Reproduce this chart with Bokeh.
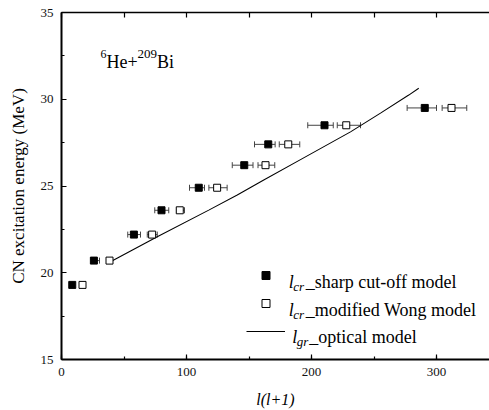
import numpy as np
from bokeh.plotting import figure
from bokeh.models import (ColumnDataSource, Range1d, LinearAxis, SingleIntervalTicker,
                          Whisker, TeeHead, Label, Legend, LegendItem)
from bokeh.core.properties import value
from bokeh.embed import file_html
from bokeh.resources import INLINE

# ---------------- data ----------------
y_energy = [19.3, 20.7, 22.2, 23.6, 24.9, 26.2, 27.4, 28.5, 29.5]

x_sharp = [8.6, 25.9, 57.9, 80.0, 109.8, 146.2, 165.4, 210.4, 290.6]
sharp_err_lo = [0.0, 2.0, 4.9, 5.4, 7.4, 9.6, 11.0, 13.4, 14.1]
sharp_err_hi = [0.0, 4.5, 5.3, 5.8, 4.6, 7.0, 5.5, 7.0, 9.4]

x_wong = [16.8, 38.4, 72.5, 94.6, 124.5, 163.2, 181.4, 227.8, 312.0]
wong_err_lo = [1.0, 2.0, 3.9, 2.6, 6.6, 6.0, 7.2, 7.2, 7.5]
wong_err_hi = [1.0, 2.0, 4.1, 3.8, 8.0, 7.4, 9.2, 11.4, 12.2]

x_optical = [39.2, 76.6, 117.8, 140.6, 161.8, 191.2, 231.2, 255.2, 277.8, 285.8]
y_optical = [20.63, 22.07, 23.61, 24.48, 25.34, 26.52, 28.12, 29.20, 30.24, 30.63]

x_range_limits = (0, 342.4)
y_range_limits = (15, 35)
x_tick_interval = 100
y_tick_interval = 5

FONT = "Liberation Serif"

# ---------------- figure ----------------
p = figure(width=489, height=410, x_range=Range1d(*x_range_limits),
           y_range=Range1d(*y_range_limits), output_backend="svg",
           toolbar_location=None,
           min_border_left=61, min_border_right=0, min_border_top=12,
           min_border_bottom=51)
p.outline_line_color = None
p.xgrid.visible = False
p.ygrid.visible = False


def style_axis(ax, width=2.0, labels=True):
    ax.axis_line_color = "black"
    ax.axis_line_width = width
    ax.major_tick_line_color = "black"
    ax.minor_tick_line_color = "black"
    ax.major_tick_line_width = 1.2
    ax.minor_tick_line_width = 1.2
    ax.major_tick_in = 5
    ax.major_tick_out = 0
    ax.minor_tick_in = 3
    ax.minor_tick_out = 0
    ax.major_label_text_font = FONT
    ax.major_label_text_font_size = "13px"
    ax.major_label_text_color = "#111111"
    ax.major_label_standoff = 8
    if not labels:
        ax.major_label_text_alpha = 0


p.xaxis.ticker = SingleIntervalTicker(interval=x_tick_interval, num_minor_ticks=2)
p.yaxis.ticker = SingleIntervalTicker(interval=y_tick_interval, num_minor_ticks=2)
for ax in p.xaxis:
    style_axis(ax)
    ax.axis_label = "l(l+1)"
    ax.axis_label_text_font = FONT
    ax.axis_label_text_font_size = "16px"
    ax.axis_label_text_font_style = "italic"
    ax.axis_label_standoff = 12
    ax.axis_label_text_color = "black"
for ax in p.yaxis:
    style_axis(ax)
    ax.axis_label = "CN excitation energy (MeV)"
    ax.axis_label_text_font = FONT
    ax.axis_label_text_font_size = "17px"
    ax.axis_label_text_font_style = "normal"
    ax.axis_label_standoff = 10
    ax.axis_label_text_color = "black"

xt = LinearAxis(ticker=SingleIntervalTicker(interval=x_tick_interval / 2, num_minor_ticks=0))
style_axis(xt, width=1.5, labels=False)
xt.minor_tick_in = 0
xt.major_label_standoff = 0
xt.major_label_text_font_size = "1px"
p.add_layout(xt, "above")

# ---------------- error bars ----------------
src_sharp = ColumnDataSource(dict(
    x=x_sharp, y=y_energy,
    lo=[a - b for a, b in zip(x_sharp, sharp_err_lo)],
    hi=[a + b for a, b in zip(x_sharp, sharp_err_hi)]))
src_wong = ColumnDataSource(dict(
    x=x_wong, y=y_energy,
    lo=[a - b for a, b in zip(x_wong, wong_err_lo)],
    hi=[a + b for a, b in zip(x_wong, wong_err_hi)]))

for src in (src_sharp, src_wong):
    w = Whisker(source=src, base="y", lower="lo", upper="hi", dimension="width",
                line_color="#444444", line_width=1,
                upper_head=TeeHead(size=6, line_color="#444444", line_width=1),
                lower_head=TeeHead(size=6, line_color="#444444", line_width=1))
    p.add_layout(w)

# ---------------- glyphs ----------------
r_line = p.line(x_optical, y_optical, line_color="black", line_width=1.1)
r_sharp = p.scatter("x", "y", source=src_sharp, marker="square", size=7,
                    fill_color="black", line_color="black", line_width=1)
r_wong = p.scatter("x", "y", source=src_wong, marker="square", size=7,
                   fill_color="white", line_color="black", line_width=1)

# ---------------- legend (glyphs) ----------------
legend = Legend(items=[
    LegendItem(label=value(" "), renderers=[r_sharp]),
    LegendItem(label=value(" "), renderers=[r_wong]),
    LegendItem(label=value(" "), renderers=[r_line]),
], location=(185, 18), orientation="vertical",
    glyph_width=39, glyph_height=20, label_height=20, label_width=10,
    label_text_font_size="10px", spacing=8, padding=0, margin=0,
    border_line_color=None, background_fill_alpha=0)
p.add_layout(legend, "center")

# ---------------- texts ----------------
def piece(x, y, text, size, xo=0, yo=0, italic=False):
    p.add_layout(Label(x=x, y=y, x_offset=xo, y_offset=yo, text=text,
                       text_font=FONT, text_font_size=size,
                       text_font_style="italic" if italic else "normal",
                       text_color="black", text_baseline="alphabetic",
                       text_align="left"))

# legend texts
leg_x = [181.8, 181.8, 184.6]
leg_y = [19.48, 17.85, 16.31]
leg_sub = ["cr", "cr", "gr"]
leg_txt = ["_sharp cut-off model", "_modified Wong model", "_optical model"]
for lx, ly, sub, txt in zip(leg_x, leg_y, leg_sub, leg_txt):
    piece(lx, ly, "l", "18px", italic=True)
    piece(lx, ly, sub, "13px", xo=4.5, yo=-4.5, italic=True)
    piece(lx, ly, txt, "18px", xo=17)

# reaction annotation
ax_, ay_ = 31.2, 32.16
piece(ax_, ay_, "6", "12px", xo=0, yo=8)
piece(ax_, ay_, "He+", "18px", xo=6)
piece(ax_, ay_, "209", "13px", xo=37, yo=8)
piece(ax_, ay_, "Bi", "18px", xo=56.5)

open("out.html", "w").write(file_html(p, INLINE))
